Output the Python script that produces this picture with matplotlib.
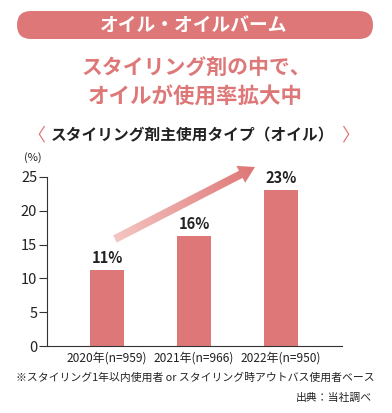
import numpy as np
import matplotlib
matplotlib.use('Agg')
import matplotlib.pyplot as plt
from matplotlib.patches import FancyArrow, FancyBboxPatch

# データ
years = ['2020年(n=959)', '2021年(n=966)', '2022年(n=950)']
values = [11.3, 16.2, 23.1]
labels = ['11%', '16%', '23%']
yticks = [0, 5, 10, 15, 20, 25]

pink = '#de7878'
jp = ['Noto Sans CJK JP', 'DejaVu Sans']
narrow = ['Liberation Sans Narrow', 'Noto Sans CJK JP', 'DejaVu Sans']
plt.rcParams['font.family'] = jp

W, H = 392, 413
fig = plt.figure(figsize=(W / 100, H / 100), dpi=100)

# 棒グラフ本体
ax = fig.add_axes([47 / W, (H - 346) / H, (342 - 47) / W, (346 - 177) / H])
x = np.arange(len(values))
ax.bar(x, values, width=0.40, color=pink)
for xi, v, s in zip(x, values, labels):
    ax.text(xi, v + 0.6, s, ha='center', va='bottom', fontsize=10.5,
            fontweight='bold', color='#222222', family=jp)
ax.set_xlim(-0.69, 2.70)
ax.set_ylim(0, 25)
ax.set_yticks(yticks)
ax.set_xticks(x)
ax.set_xticklabels(years, family=narrow, fontsize=8.6, color='#222222')
for t in ax.get_yticklabels():
    t.set_family(narrow)
    t.set_fontsize(10.5)
    t.set_color('#222222')
ax.spines['top'].set_visible(False)
ax.spines['right'].set_visible(False)
ax.spines['left'].set_color('#333333')
ax.spines['bottom'].set_color('#333333')
ax.tick_params(axis='y', length=6, width=0.8, color='#333333', pad=1)
ax.tick_params(axis='x', length=0, pad=4)

# 装飾用のオーバーレイ（ピクセル座標）
ov = fig.add_axes([0, 0, 1, 1], zorder=5)
ov.set_xlim(0, W)
ov.set_ylim(H, 0)
ov.axis('off')
ov.patch.set_alpha(0)

banner = FancyBboxPatch((17, 11), 356, 28, boxstyle='round,pad=0,rounding_size=14',
                        fc=pink, ec='none')
ov.add_patch(banner)
ov.text(194, 25.5, 'オイル・オイルバーム', ha='center', va='center', color='white',
        fontsize=13.5, fontweight='bold')

ov.text(196, 67, 'スタイリング剤の中で、', ha='center', va='center', color=pink,
        fontsize=15, fontweight='bold')
ov.text(195, 97, 'オイルが使用率拡大中', ha='center', va='center', color=pink,
        fontsize=15.5, fontweight='bold')

ov.text(193, 135, 'スタイリング剤主使用タイプ（オイル）', ha='center', va='center',
        color='#222222', fontsize=11.3, fontweight='bold')
ov.text(36, 135, '〈', ha='center', va='center', color=pink, fontsize=13)
ov.text(350, 135, '〉', ha='center', va='center', color=pink, fontsize=13)

ov.text(33, 158, '(%)', ha='center', va='center', color='#222222', fontsize=8,
        family=narrow)

ov.text(195, 378, '※スタイリング1年以内使用者 or スタイリング時アウトバス使用者ベース',
        ha='center', va='center', color='#222222', fontsize=7.8)
ov.text(372, 398, '出典：当社調べ', ha='right', va='center', color='#222222',
        fontsize=7.8)

# グラデーション矢印
arr = FancyArrow(115, 239, 140, -72, width=8, head_width=19, head_length=16,
                 length_includes_head=True, fc='none', ec='none')
ov.add_patch(arr)
gx, gy = np.meshgrid(np.linspace(100, 265, 200), np.linspace(155, 255, 200))
d = np.array([140, -72]) / np.hypot(140, -72)
t = ((gx - 115) * d[0] + (gy - 239) * d[1]) / np.hypot(140, -72)
t = np.clip(t, 0, 1)
c0 = np.array([0xf4, 0xc6, 0xc2]) / 255
c1 = np.array([0xde, 0x76, 0x76]) / 255
img = c0 + (c1 - c0) * t[..., None]
im = ov.imshow(img, extent=(100, 265, 255, 155), origin='upper', aspect='auto',
               interpolation='bilinear')
im.set_clip_path(arr)
ov.set_xlim(0, W)
ov.set_ylim(H, 0)

fig.savefig('out.png', dpi=100)
